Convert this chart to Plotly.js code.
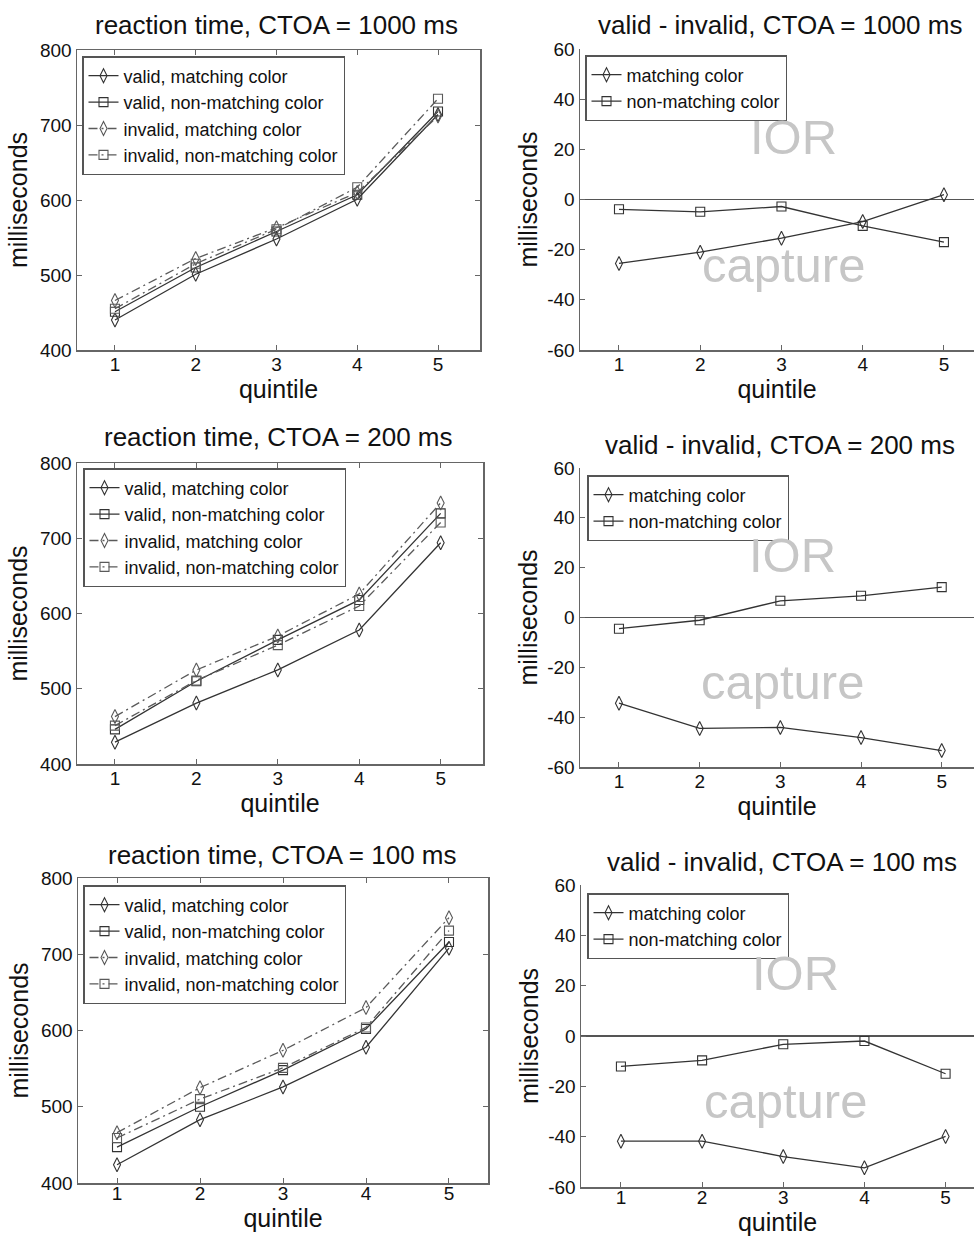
<!DOCTYPE html>
<html>
<head>
<meta charset="utf-8">
<script src="https://cdn.plot.ly/plotly-3.0.1.min.js"></script>
<style>
  html, body { margin: 0; padding: 0; background: #fff; }
  #chart { width: 974px; height: 1236px; }
</style>
</head>
<body>
<div id="chart"></div>
<script>
// ---------------- data ----------------
const quintiles = [1, 2, 3, 4, 5];
const quintileTickLabels = ['1', '2', '3', '4', '5'];

const ctoaLabels = ['1000', '200', '100'];

// reaction time (ms), CTOA = 1000 ms
const rt1000ValidMatch      = [440, 501, 548, 601, 714];
const rt1000ValidNonMatch   = [451, 510, 558, 607, 718];
const rt1000InvalidMatch    = [466, 522, 563, 610, 712];
const rt1000InvalidNonMatch = [455, 515, 561, 617, 735];
// valid - invalid (ms), CTOA = 1000 ms
const diff1000Match    = [-25.5, -21, -15.4, -8.8, 1.9];
const diff1000NonMatch = [-3.9, -4.9, -2.8, -10.5, -17];

// reaction time (ms), CTOA = 200 ms
const rt200ValidMatch      = [429, 481, 525, 578, 694];
const rt200ValidNonMatch   = [446, 510, 565, 618, 733];
const rt200InvalidMatch    = [463, 525, 570, 626, 747];
const rt200InvalidNonMatch = [451, 511, 558, 610, 721];
// valid - invalid (ms), CTOA = 200 ms
const diff200Match    = [-34.4, -44.5, -44.1, -48.2, -53.4];
const diff200NonMatch = [-4.5, -1.1, 6.7, 8.7, 12.2];

// reaction time (ms), CTOA = 100 ms
const rt100ValidMatch      = [424, 483, 526, 578, 708];
const rt100ValidNonMatch   = [447, 500, 548, 602, 716];
const rt100InvalidMatch    = [466, 525, 574, 630, 748];
const rt100InvalidNonMatch = [459, 510, 551, 604, 731];
// valid - invalid (ms), CTOA = 100 ms
const diff100Match    = [-41.8, -41.8, -47.9, -52.4, -39.9];
const diff100NonMatch = [-12.1, -9.7, -3.3, -2, -15];

const rtSeriesNames   = ['valid, matching color', 'valid, non-matching color',
                         'invalid, matching color', 'invalid, non-matching color'];
const diffSeriesNames = ['matching color', 'non-matching color'];

const rtTickVals   = [400, 500, 600, 700, 800];
const diffTickVals = [-60, -40, -20, 0, 20, 40, 60];

// ---------------- styling ----------------
const W = 974, H = 1236;
const FONT = 'Liberation Sans, Arial, Helvetica, sans-serif';
const LINE = '#333333';
const AX = '#666666';
const TXT = '#111111';

const rtData   = [
  [rt1000ValidMatch, rt1000ValidNonMatch, rt1000InvalidMatch, rt1000InvalidNonMatch],
  [rt200ValidMatch, rt200ValidNonMatch, rt200InvalidMatch, rt200InvalidNonMatch],
  [rt100ValidMatch, rt100ValidNonMatch, rt100InvalidMatch, rt100InvalidNonMatch]
];
const diffData = [
  [diff1000Match, diff1000NonMatch],
  [diff200Match, diff200NonMatch],
  [diff100Match, diff100NonMatch]
];

// pixel boxes for panels: [left, right, top, bottom], x range
const leftBoxes = [
  {x0: 77, x1: 480, y0: 50,  y1: 350,  xr: [0.53, 5.52]},
  {x0: 77, x1: 483, y0: 463, y1: 764,  xr: [0.534, 5.52]},
  {x0: 78, x1: 488, y0: 878, y1: 1183, xr: [0.53, 5.47]}
];
const rightBoxes = [
  {x0: 580, x1: 974, y0: 49,  y1: 350,  xr: [0.52, 5.37]},
  {x0: 580, x1: 974, y0: 468, y1: 767,  xr: [0.517, 5.4]},
  {x0: 581, x1: 974, y0: 885, y1: 1187, xr: [0.508, 5.35]}
];
const xLabelShift = [-3, -3, -7];
const leftTitlePos  = [[276, 25], [278, 437], [282, 855]];
const rightTitlePos = [[780, 25], [780, 445], [782, 862]];
const leftLegendPos  = [[82, 56], [83, 468], [83, 885]];
const rightLegendPos = [[585, 55], [587, 475], [587, 893]];

const px = x => x / W;
const py = y => 1 - y / H;

const traces = [];
const layout = {
  width: W, height: H,
  margin: {l: 0, r: 0, t: 0, b: 0},
  paper_bgcolor: '#ffffff',
  plot_bgcolor: '#ffffff',
  font: {family: FONT, color: TXT, size: 18},
  showlegend: true,
  annotations: []
};

function axisBase(domain, range, tickvals, boxed) {
  return {
    domain: domain, range: range, tickvals: tickvals,
    ticktext: tickvals.map(String),
    showline: true, linecolor: AX, linewidth: 1.5,
    mirror: boxed ? 'ticks' : false,
    ticks: 'inside', ticklen: 5, tickcolor: AX, tickwidth: 1,
    showgrid: false, zeroline: false,
    tickfont: {family: FONT, size: 19, color: TXT},
    fixedrange: true
  };
}

let legendIdx = 0;
for (let r = 0; r < 3; r++) {
  // ---------- left: reaction time ----------
  const lb = leftBoxes[r];
  const li = 2 * r + 1;
  const ri = 2 * r + 2;
  const sfx = li === 1 ? '' : String(li);
  const xL = 'xaxis' + sfx, yL = 'yaxis' + sfx;
  const xR = 'xaxis' + ri, yR = 'yaxis' + ri;

  const xa = axisBase([px(lb.x0), px(lb.x1)], lb.xr, quintiles, true);
  xa.ticktext = quintileTickLabels;
  xa.anchor = 'y' + sfx;
  xa.ticklabelstandoff = xLabelShift[r];
  xa.title = {text: 'quintile', font: {family: FONT, size: 25, color: TXT}, standoff: 0};
  const ya = axisBase([py(lb.y1), py(lb.y0)], [400, 800], rtTickVals, true);
  ya.anchor = 'x' + sfx;
  ya.title = {text: 'milliseconds', font: {family: FONT, size: 25, color: TXT}, standoff: 5};
  layout[xL] = xa; layout[yL] = ya;

  const legL = 'legend' + (legendIdx === 0 ? '' : (legendIdx + 1));
  legendIdx++;
  layout[legL] = {
    x: px(leftLegendPos[r][0]), y: py(leftLegendPos[r][1]),
    xanchor: 'left', yanchor: 'top',
    bgcolor: '#ffffff', bordercolor: '#555', borderwidth: 1.5,
    font: {family: FONT, size: 18, color: TXT},
    tracegroupgap: 0, itemwidth: 30
  };

  for (let s = 0; s < 4; s++) {
    const isSquare = (s % 2 === 1);
    const isInvalid = (s >= 2);
    const c = isInvalid ? '#5a5a5a' : LINE;
    traces.push({
      type: 'scatter', mode: 'lines+markers',
      x: quintiles, y: rtData[r][s],
      name: rtSeriesNames[s],
      xaxis: 'x' + sfx, yaxis: 'y' + sfx,
      legend: legL,
      line: {color: c, width: 1.3, dash: isInvalid ? '9px,4px,2px,4px' : 'solid'},
      marker: {symbol: isSquare ? 'square-open' : 'diamond-tall-open',
               size: isSquare ? 9 : 10, color: c, line: {width: 1.1, color: c}}
    });
  }

  layout.annotations.push({
    xref: 'paper', yref: 'paper', x: px(leftTitlePos[r][0]), y: py(leftTitlePos[r][1]),
    xanchor: 'center', yanchor: 'middle', showarrow: false,
    text: 'reaction time, CTOA = ' + ctoaLabels[r] + ' ms',
    font: {family: FONT, size: 26, color: TXT}
  });

  // ---------- right: valid - invalid ----------
  const rb = rightBoxes[r];
  const xa2 = axisBase([px(rb.x0), px(rb.x1)], rb.xr, quintiles, false);
  xa2.ticktext = quintileTickLabels;
  xa2.anchor = 'y' + ri;
  xa2.ticklabelstandoff = xLabelShift[r];
  xa2.title = {text: 'quintile', font: {family: FONT, size: 25, color: TXT}, standoff: 0};
  const ya2 = axisBase([py(rb.y1), py(rb.y0)], [-60, 60], diffTickVals, false);
  ya2.anchor = 'x' + ri;
  ya2.zeroline = true; ya2.zerolinecolor = '#555'; ya2.zerolinewidth = 1.5;
  ya2.title = {text: 'milliseconds', font: {family: FONT, size: 25, color: TXT}, standoff: 2};
  layout[xR] = xa2; layout[yR] = ya2;

  const legR = 'legend' + (legendIdx + 1);
  legendIdx++;
  layout[legR] = {
    x: px(rightLegendPos[r][0]), y: py(rightLegendPos[r][1]),
    xanchor: 'left', yanchor: 'top',
    bgcolor: '#ffffff', bordercolor: '#555', borderwidth: 1.5,
    font: {family: FONT, size: 18, color: TXT},
    tracegroupgap: 0, itemwidth: 30
  };

  for (let s = 0; s < 2; s++) {
    const isSquare = (s === 1);
    traces.push({
      type: 'scatter', mode: 'lines+markers',
      x: quintiles, y: diffData[r][s],
      name: diffSeriesNames[s],
      xaxis: 'x' + ri, yaxis: 'y' + ri,
      legend: legR,
      line: {color: LINE, width: 1.3},
      marker: {symbol: isSquare ? 'square-open' : 'diamond-tall-open',
               size: isSquare ? 9 : 10, color: LINE, line: {width: 1.1, color: LINE}}
    });
  }

  layout.annotations.push({
    xref: 'paper', yref: 'paper', x: px(rightTitlePos[r][0]), y: py(rightTitlePos[r][1]),
    xanchor: 'center', yanchor: 'middle', showarrow: false,
    text: 'valid - invalid, CTOA = ' + ctoaLabels[r] + ' ms',
    font: {family: FONT, size: 26, color: TXT}
  });
  layout.annotations.push({
    xref: 'x' + ri, yref: 'y' + ri, x: 3.15, y: 25,
    xanchor: 'center', yanchor: 'middle', showarrow: false, text: 'IOR',
    font: {family: FONT, size: 49, color: '#c6c6c6'}
  });
  layout.annotations.push({
    xref: 'x' + ri, yref: 'y' + ri, x: 3.03, y: -26,
    xanchor: 'center', yanchor: 'middle', showarrow: false, text: 'capture',
    font: {family: FONT, size: 49, color: '#c6c6c6'}
  });
}

Plotly.newPlot('chart', traces, layout, {displayModeBar: false, staticPlot: true});
</script>
</body>
</html>
